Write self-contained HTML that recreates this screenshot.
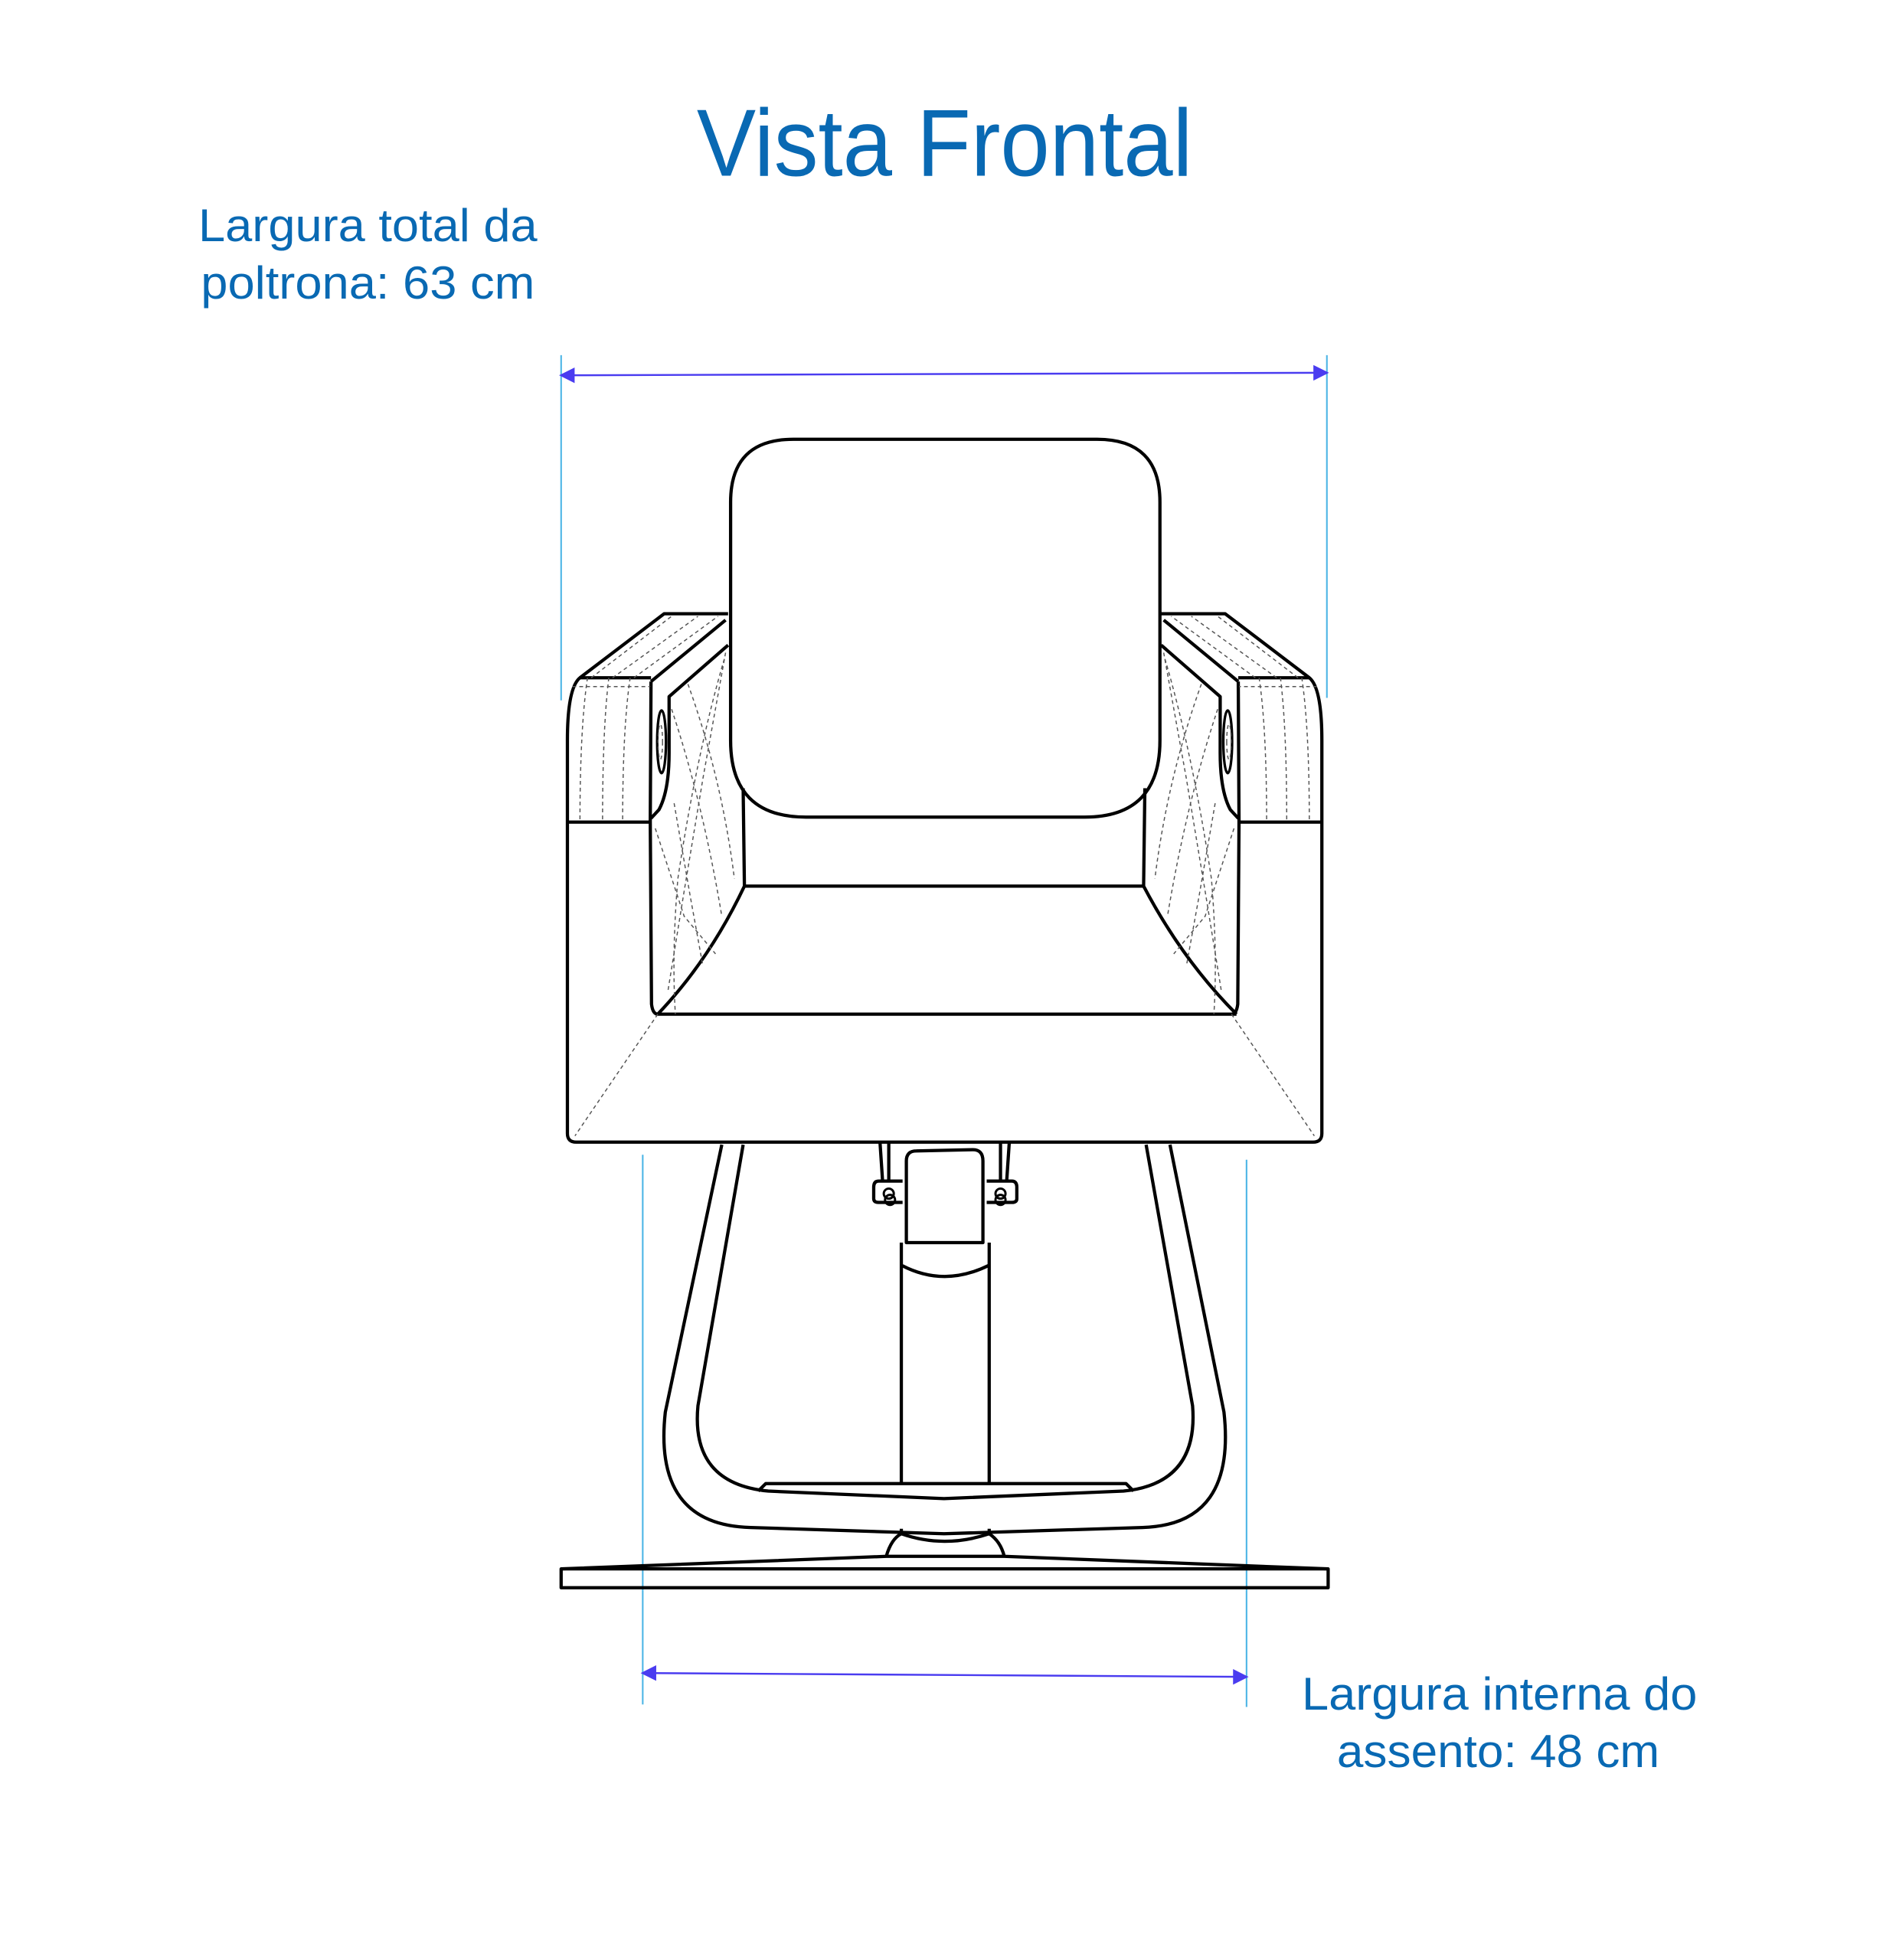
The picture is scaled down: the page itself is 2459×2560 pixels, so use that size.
<!DOCTYPE html>
<html><head><meta charset="utf-8"><style>
html,body{margin:0;padding:0;background:#fff;}
svg{display:block;}
text{font-family:"Liberation Sans",sans-serif;fill:#0969b3;}
</style></head><body>
<svg width="2459" height="2560" viewBox="0 0 1500 1561.6" preserveAspectRatio="none" xmlns="http://www.w3.org/2000/svg">
<text x="555" y="140" font-size="76" textLength="395" lengthAdjust="spacingAndGlyphs">Vista Frontal</text>
<text x="158" y="192" font-size="37" textLength="270" lengthAdjust="spacingAndGlyphs">Largura total da</text>
<text x="160" y="238" font-size="37" textLength="266" lengthAdjust="spacingAndGlyphs">poltrona: 63 cm</text>
<text x="1037" y="1362" font-size="37" textLength="315" lengthAdjust="spacingAndGlyphs">Largura interna do</text>
<text x="1065" y="1408" font-size="37" textLength="257" lengthAdjust="spacingAndGlyphs">assento: 48 cm</text>

<g stroke="#4fb6e6" stroke-width="1.3">
<line x1="447" y1="283" x2="447" y2="558"/><line x1="1057" y1="283" x2="1057" y2="556"/>
<line x1="512" y1="920" x2="512" y2="1358"/><line x1="993" y1="924" x2="993" y2="1360"/>
</g>
<g stroke="#4a3cf0" stroke-width="1.5" fill="#4a3cf0">
<line x1="452" y1="299" x2="1052" y2="297"/>
<path d="M447,299 L457,294 L457,304Z"/><path d="M1057,297 L1047,292 L1047,302Z"/>
<line x1="517" y1="1333" x2="988" y2="1336"/>
<path d="M512,1333 L522,1328 L522,1338Z"/><path d="M993,1336 L983,1331 L983,1341Z"/>
</g>

<g fill="none" stroke="#000" stroke-width="2.6" stroke-linejoin="round">
<path d="M632,350 L874,350 Q924,350 924,400 L924,590 Q924,651 864,651 L642,651 Q582,651 582,590 L582,400 Q582,350 632,350Z"/>
<line x1="592" y1="628" x2="593" y2="706"/><line x1="912" y1="628" x2="911" y2="706"/>
<line x1="593" y1="706" x2="911" y2="706"/>
<line x1="524" y1="808" x2="985" y2="808"/>
<path d="M593,706 Q565,765 524,808"/><path d="M911,706 Q942,765 985,808"/>
<path d="M452,657 L452,903 Q452,910 459,910 L1046,910 Q1053,910 1053,903 L1053,657"/>
<g id="arm">
<path d="M452,657 L452,590 Q452,548 462,540 L529,489 L580,489"/>
<line x1="462" y1="540" x2="518.6" y2="540"/>
<line x1="452" y1="655" x2="518.6" y2="655"/>
<line x1="578" y1="494" x2="518.6" y2="543"/>
<path d="M518.6,543 L518,655 L519,800 Q520,808 524,808"/>
<path d="M580,514 L533,555 L533,600 Q533,630 525,645 L518.6,652"/>
<ellipse cx="527" cy="591" rx="3.5" ry="25" stroke-width="2"/>
<g stroke="#555" stroke-width="0.9" stroke-dasharray="3,2.5">
<ellipse cx="526" cy="591" rx="1.8" ry="14"/>
<path d="M456,547 L518,547"/>
<path d="M468,540 Q462,580 462,655"/><path d="M485,540 Q480,580 480,655"/><path d="M502,540 Q496,580 496,655"/>
<path d="M471,540 L535,491"/><path d="M488,540 L556,491"/><path d="M505,540 L572,491"/>
<path d="M577,525 Q555,600 540,700 Q535,760 538,808"/>
<path d="M548,545 Q575,620 585,700"/>
<path d="M535,565 Q560,640 575,730"/>
<path d="M537,640 L550,715 L560,770"/>
<path d="M578,520 L560,620 L545,710 L532,790"/>
<path d="M522,660 L545,730 L570,760"/>
<path d="M524,808 L458,905"/>
</g>
</g>
<use href="#arm" transform="translate(1505,0) scale(-1,1)"/>

<path d="M575,912 L530,1125 Q520,1215 598,1217 L752,1222 L910,1217 Q985,1215 975,1125 L932,912"/>
<path d="M592,912 L556,1120 Q550,1182 612,1188 L752,1194 L895,1188 Q955,1182 950,1120 L913,912"/>
<path d="M604,1188 L610,1182 L897,1182 L903,1188"/>
<line x1="718" y1="990" x2="718" y2="1183"/><line x1="788" y1="990" x2="788" y2="1183"/>
<path d="M718,1008 Q752,1026 788,1008"/>
<path d="M701,910 Q702,925 703,940 M708,910 L708,940 M797,910 L797,940 M804,910 Q803,925 802,940"/>
<path d="M722,990 L722,925 Q722,917 730,917 L775,916 Q783,916 783,925 L783,990 Z"/>
<path d="M719,941 L700,941 Q696,941 696,946 L696,955 Q696,958 700,958 L719,958"/>
<path d="M786,941 L806,941 Q810,941 810,946 L810,955 Q810,958 806,958 L786,958"/>
<circle cx="708" cy="951" r="4" stroke-width="1.8"/><circle cx="709" cy="956" r="4" stroke-width="1.8"/>
<circle cx="797" cy="951" r="4" stroke-width="1.8"/><circle cx="797" cy="956" r="4" stroke-width="1.8"/>
<path d="M718,1218 L718,1222 Q752,1234 788,1222 L788,1218"/>
<path d="M706,1240 Q710,1226 718,1222 M788,1222 Q797,1228 800,1240"/>
<path d="M447,1250 L706,1240 L800,1240 L1058,1250"/>
<rect x="447" y="1250" width="611" height="15"/>
</g>
</svg>
</body></html>
